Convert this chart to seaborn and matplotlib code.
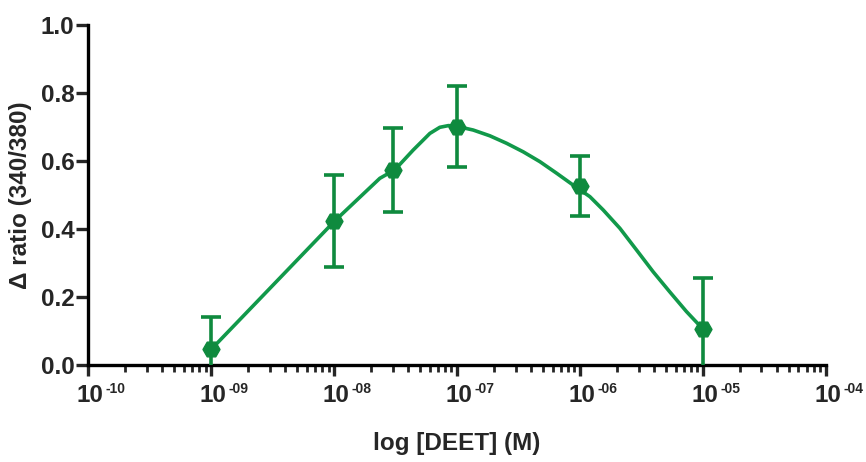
import numpy as np
import pandas as pd
import matplotlib
matplotlib.use('Agg')
import matplotlib.pyplot as plt
import seaborn as sns

# measured points (mean +/- error)
conc = [1e-9, 1e-8, 3e-8, 1e-7, 1e-6, 1e-5]
ratio = [0.046, 0.424, 0.574, 0.701, 0.526, 0.105]
err = [0.095, 0.135, 0.124, 0.120, 0.088, 0.152]

# fitted curve (log10 M, ratio)
curve_logx = [-9.0, -7.994, -7.628, -7.506, -7.357, -7.221, -7.140, -7.07,
              -7.004, -6.869, -6.733, -6.597, -6.462, -6.326, -6.190, -6.055,
              -5.919, -5.811, -5.675, -5.539, -5.404, -5.269, -5.133, -5.0]
curve_y = [0.046, 0.424, 0.549, 0.574, 0.632, 0.681, 0.699, 0.704,
           0.702, 0.691, 0.674, 0.652, 0.627, 0.598, 0.564, 0.529,
           0.495, 0.456, 0.402, 0.338, 0.274, 0.215, 0.157, 0.106]

xtick_exps = ['-10', '-09', '-08', '-07', '-06', '-05', '-04']
yticks = [0.0, 0.2, 0.4, 0.6, 0.8, 1.0]

line_green = '#11994a'
mark_green = '#0f8a3e'

sns.set_style('ticks')
plt.rcParams['font.family'] = ['Liberation Sans', 'DejaVu Sans']
plt.rcParams['font.weight'] = 'bold'

df_pts = pd.DataFrame({'conc': conc, 'ratio': ratio, 'err': err})
df_fit = pd.DataFrame({'conc': [10 ** v for v in curve_logx], 'ratio': curve_y})

fig = plt.figure(figsize=(8.66, 4.62), dpi=100)
ax = fig.add_axes([0.102, 0.21, 0.8515, 0.736])

sns.lineplot(data=df_fit, x='conc', y='ratio', ax=ax, color=line_green,
             linewidth=2.6, sort=False)
ax.errorbar(df_pts['conc'], df_pts['ratio'], yerr=df_pts['err'], fmt='none',
            ecolor=mark_green, elinewidth=2.6, capsize=7, capthick=2.6, zorder=3)
sns.scatterplot(data=df_pts, x='conc', y='ratio', ax=ax, marker='H', s=150,
                color=mark_green, edgecolor=mark_green, zorder=4)

ax.set_xscale('log')
ax.set_xlim(1e-10, 1e-4)
ax.set_ylim(0, 1.0)

# axes styling
sns.despine(ax=ax)
for side in ['left', 'bottom']:
    ax.spines[side].set_linewidth(2.4)
    ax.spines[side].set_color('black')

ax.set_yticks(yticks)
ax.set_yticklabels([f'{v:.1f}' for v in yticks], fontsize=17.5, fontweight='bold')
ax.tick_params(axis='y', which='major', length=9, width=2.4, pad=1)

major_x = [10.0 ** int(e) for e in xtick_exps]
ax.set_xticks(major_x)
ax.set_xticklabels([''] * len(major_x))
ax.xaxis.set_minor_locator(matplotlib.ticker.LogLocator(base=10, subs=np.arange(2, 10)))
ax.xaxis.set_minor_formatter(matplotlib.ticker.NullFormatter())
ax.tick_params(axis='x', which='major', length=8, width=2.4)
ax.tick_params(axis='x', which='minor', length=5, width=2.0)

trans = matplotlib.transforms.blended_transform_factory(ax.transData, ax.transAxes)
for xv, e in zip(major_x, xtick_exps):
    ax.annotate('10', xy=(xv, 0), xycoords=trans, xytext=(1.5, -14),
                textcoords='offset points', ha='center', va='top',
                fontsize=17.5, fontweight='bold', annotation_clip=False)
    ax.annotate(e, xy=(xv, 0), xycoords=trans, xytext=(12.5, -12),
                textcoords='offset points', ha='left', va='top',
                fontsize=10, fontweight='bold', annotation_clip=False)

ax.set_xlabel('log [DEET] (M)', fontsize=17.5, fontweight='bold', labelpad=37)
ax.set_ylabel('\u0394 ratio (340/380)', fontsize=17.5, fontweight='bold', labelpad=6)

fig.savefig('out.png', dpi=100)
